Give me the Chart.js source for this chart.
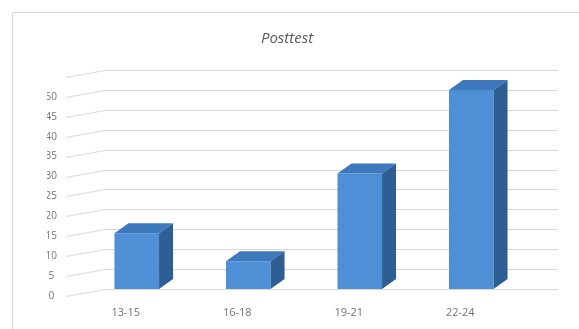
<!DOCTYPE html>
<html>
<head>
<meta charset="utf-8">
<script src="https://cdn.jsdelivr.net/npm/chart.js@4/dist/chart.umd.min.js"></script>
<style>
  body { margin: 0; background: #fff; }
  canvas { display: block; }
</style>
</head>
<body>
<canvas id="myChart" width="579" height="329"></canvas>
<script>
// data
var categories = ["13-15", "16-18", "19-21", "22-24"];
var values = [14, 7, 29, 50];
var yTicks = [0, 5, 10, 15, 20, 25, 30, 35, 40, 45, 50];
var chartTitle = "Posttest";

var depthX = 14, depthY = -10;

// frame, back wall gridlines and the diagonal side-wall lines
var wallPlugin = {
    id: 'wall',
    beforeDraw: function(chart) {
        var ctx = chart.ctx;
        ctx.save();
        ctx.fillStyle = '#fff';
        ctx.fillRect(0, 0, chart.width, chart.height);
        ctx.strokeStyle = '#d9d9d9';
        ctx.lineWidth = 1;
        ctx.strokeRect(12.5, 12.5, 700, 500);
        ctx.restore();
    },
    beforeDatasetsDraw: function(chart) {
        var ctx = chart.ctx;
        var area = chart.chartArea;
        var ys = chart.scales.y;
        var wallLeft = area.left + 24;
        var wallRight = area.right + 31;
        ctx.save();
        ctx.strokeStyle = '#d9d9d9';
        ctx.lineWidth = 1;
        ys.ticks.forEach(function(t) {
            var y = Math.round(ys.getPixelForValue(t.value)) + 0.5;
            ctx.beginPath();
            ctx.moveTo(wallLeft, y);
            ctx.lineTo(wallRight, y);
            ctx.moveTo(wallLeft, y);
            ctx.lineTo(area.left - 15, y + 7);
            ctx.stroke();
        });
        ctx.restore();
    },
    afterDatasetsDraw: function(chart) {
        var ctx = chart.ctx;
        var meta = chart.getDatasetMeta(0);
        ctx.save();
        meta.data.forEach(function(bar) {
            var p = bar.getProps(['x', 'y', 'base', 'width'], true);
            var l = p.x - p.width / 2, r = p.x + p.width / 2;
            // top face
            ctx.fillStyle = '#3e79bd';
            ctx.beginPath();
            ctx.moveTo(l, p.y);
            ctx.lineTo(l + depthX, p.y + depthY);
            ctx.lineTo(r + depthX, p.y + depthY);
            ctx.lineTo(r, p.y);
            ctx.closePath();
            ctx.fill();
            // side face
            ctx.fillStyle = '#2f5f92';
            ctx.beginPath();
            ctx.moveTo(r, p.y);
            ctx.lineTo(r + depthX, p.y + depthY);
            ctx.lineTo(r + depthX, p.base + depthY);
            ctx.lineTo(r, p.base);
            ctx.closePath();
            ctx.fill();
        });
        ctx.restore();
    }
};

new Chart("myChart", {
    type: "bar",
    data: {
        labels: categories,
        datasets: [{
            data: values,
            backgroundColor: '#4f8fd6',
            borderWidth: 0,
            categoryPercentage: 1,
            barPercentage: 0.4
        }]
    },
    plugins: [wallPlugin],
    options: {
        responsive: false,
        animation: false,
        layout: { padding: { left: 47, right: 52, top: 0, bottom: 10 } },
        plugins: {
            legend: { display: false },
            tooltip: { enabled: false },
            title: {
                display: true,
                text: chartTitle,
                color: '#595959',
                font: { family: 'Open Sans', size: 15, style: 'italic', weight: 'normal' },
                padding: { top: 30, bottom: 22 }
            }
        },
        scales: {
            x: {
                grid: { display: false, drawTicks: false },
                border: { display: false },
                afterFit: function(scale) { scale.height = 30; },
                ticks: {
                    color: '#737373',
                    font: { family: 'Open Sans', size: 11 },
                    padding: 17,
                    labelOffset: -11,
                    maxRotation: 0
                }
            },
            y: {
                min: 0,
                max: 55,
                grid: { display: false, drawTicks: false },
                border: { display: false },
                afterFit: function(scale) { scale.width = 34; },
                afterBuildTicks: function(scale) {
                    scale.ticks = yTicks.concat([55]).map(function(v) { return { value: v }; });
                },
                ticks: {
                    color: '#737373',
                    font: { family: 'Open Sans', size: 10 },
                    padding: 24,
                    crossAlign: 'center',
                    labelOffset: 7,
                    callback: function(v) { return yTicks.indexOf(v) >= 0 ? v : ''; }
                }
            }
        }
    }
});
</script>
</body>
</html>
